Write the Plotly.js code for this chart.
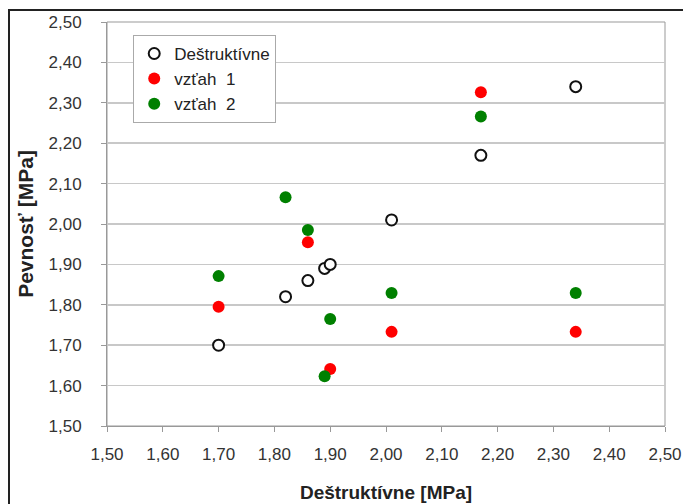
<!DOCTYPE html>
<html>
<head>
<meta charset="utf-8">
<script src="https://cdn.plot.ly/plotly-3.0.1.min.js"></script>
<style>
html,body{margin:0;padding:0;background:#fff;overflow:hidden;}
#wrap{position:relative;width:683px;height:504px;}
#chart{width:683px;height:504px;}
#frame{position:absolute;left:8px;top:9px;width:700px;height:600px;border:2px solid #222;pointer-events:none;}
</style>
</head>
<body>
<div id="wrap"><div id="chart"></div><div id="frame"></div></div>
<script>
var seriesNames = ["Deštruktívne", "vzťah  1", "vzťah  2"];
var destrX = [1.70, 1.82, 1.86, 1.89, 1.90, 2.01, 2.17, 2.34];
var destrY = [1.70, 1.82, 1.86, 1.89, 1.90, 2.01, 2.17, 2.34];
var v1X = [1.70, 1.86, 1.90, 2.01, 2.17, 2.34];
var v1Y = [1.795, 1.955, 1.641, 1.733, 2.326, 1.733];
var v2X = [1.70, 1.82, 1.86, 1.89, 1.90, 2.01, 2.17, 2.34];
var v2Y = [1.871, 2.066, 1.985, 1.623, 1.765, 1.829, 2.266, 1.829];
var tickVals = [1.5, 1.6, 1.7, 1.8, 1.9, 2.0, 2.1, 2.2, 2.3, 2.4, 2.5];
var tickText = ["1,50","1,60","1,70","1,80","1,90","2,00","2,10","2,20","2,30","2,40","2,50"];

var FONT = "Liberation Sans, Arial, sans-serif";

var traces = [
  {x: destrX, y: destrY, name: seriesNames[0], type: "scatter", mode: "markers", legendgroup: "a",
   marker: {size: 11, color: "#ffffff", line: {color: "#111111", width: 2}}},
  {x: v1X, y: v1Y, name: seriesNames[1], type: "scatter", mode: "markers", legendgroup: "b",
   marker: {size: 12, color: "#ff0000"}},
  {x: v2X, y: v2Y, name: seriesNames[2], type: "scatter", mode: "markers", legendgroup: "c",
   marker: {size: 12, color: "#008000"}}
];

var axisCommon = {
  range: [1.5, 2.5], tickvals: tickVals, ticktext: tickText,
  showline: true, linecolor: "#999999", linewidth: 1, mirror: false,
  ticks: "outside", ticklen: 5, tickcolor: "#999999",
  tickfont: {family: FONT, size: 17, color: "#333333"},
  zeroline: false, fixedrange: true
};

var layout = {
  width: 683, height: 504,
  margin: {l: 107, r: 18, t: 22, b: 78},
  paper_bgcolor: "#ffffff", plot_bgcolor: "#ffffff",
  showlegend: true,
  legend: {x: 0.047, y: 0.968, xanchor: "left", yanchor: "top",
           bgcolor: "#ffffff", bordercolor: "#aaaaaa", borderwidth: 1,
           traceorder: "grouped", tracegroupgap: 0, itemwidth: 30,
           font: {family: FONT, size: 17, color: "#222222"}},
  xaxis: Object.assign({}, axisCommon, {
    showgrid: false, ticklabelstandoff: 8,
    title: {text: "<b>Deštruktívne [MPa]</b>", font: {family: FONT, size: 19, color: "#222222"}, standoff: 22}
  }),
  yaxis: Object.assign({}, axisCommon, {
    showgrid: true, gridcolor: "#c8c8c8", gridwidth: 1.5, ticklabelstandoff: 16,
    title: {text: "<b>Pevnosť [MPa]</b>", font: {family: FONT, size: 21, color: "#222222"}, standoff: 9}
  }),
  shapes: [
    {type: "rect", xref: "paper", yref: "paper", x0: 0, x1: 1, y0: 0, y1: 1, line: {color: "#999999", width: 1}, layer: "below"}
  ]
};

Plotly.newPlot("chart", traces, layout, {displayModeBar: false, staticPlot: true});
</script>
</body>
</html>
